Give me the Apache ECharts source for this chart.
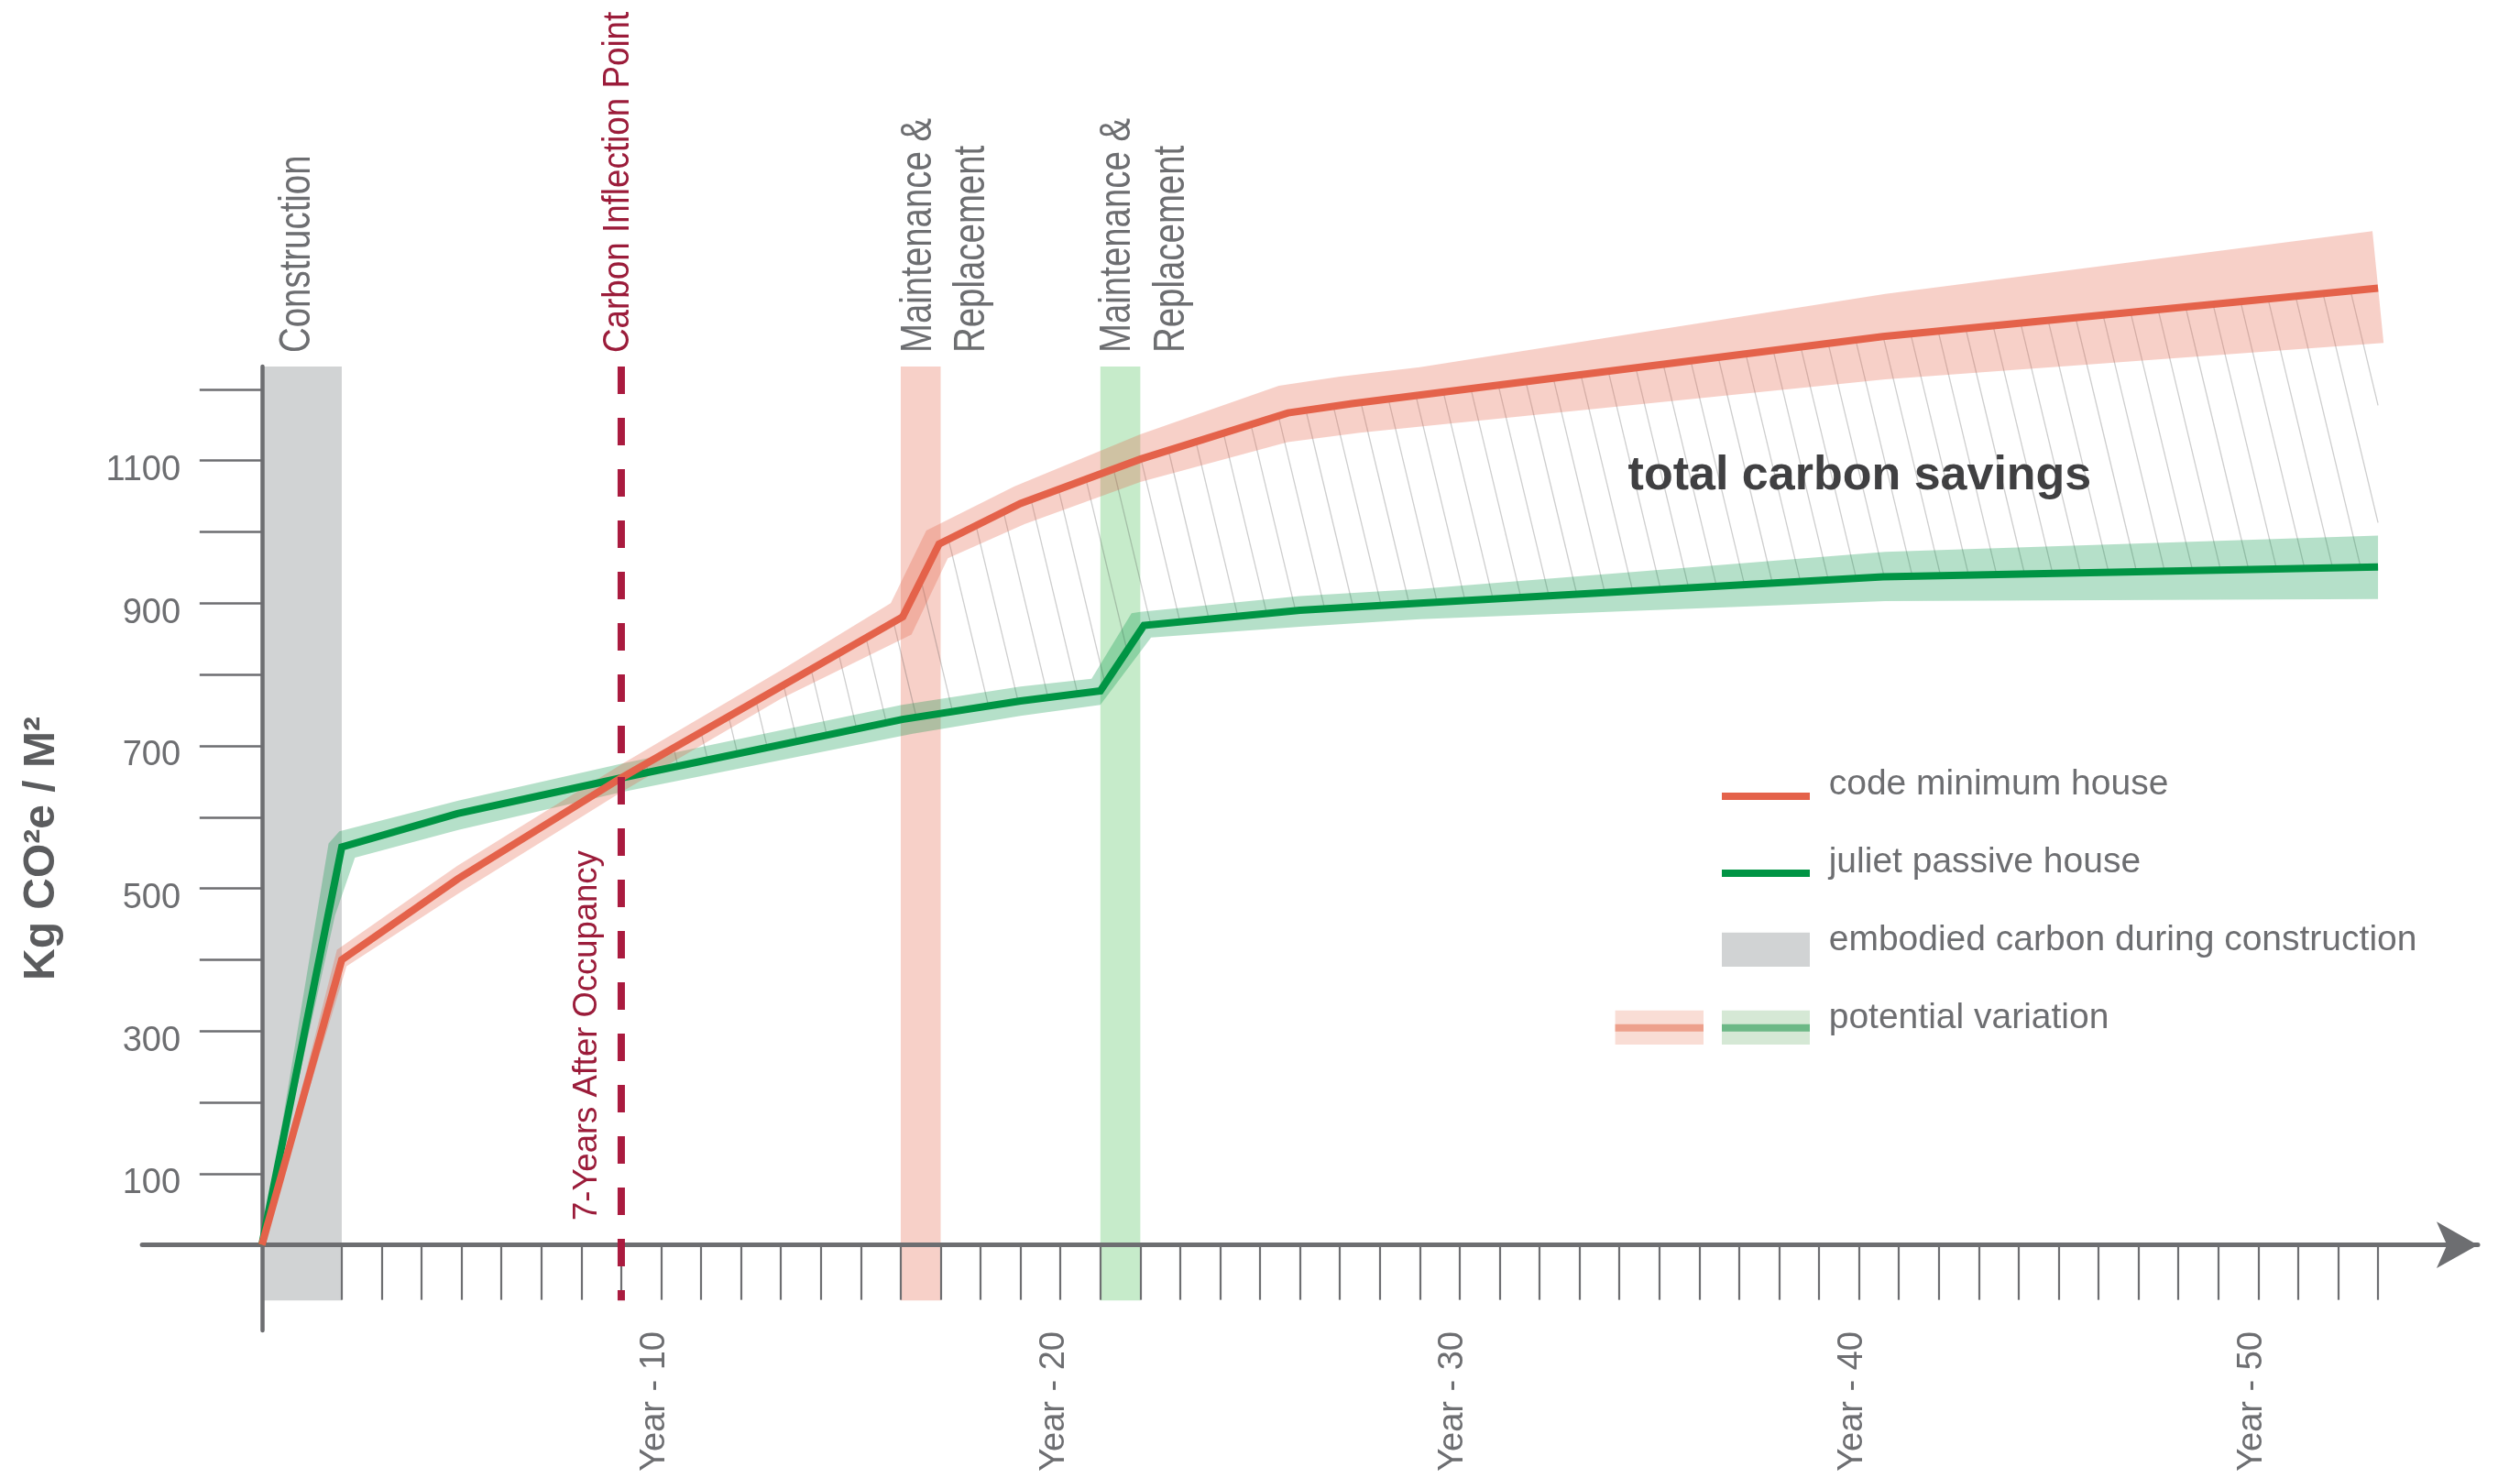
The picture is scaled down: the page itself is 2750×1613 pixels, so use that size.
<!DOCTYPE html>
<html>
<head>
<meta charset="utf-8">
<script src="https://cdn.jsdelivr.net/npm/echarts@6/dist/echarts.min.js"></script>
<style>
html,body{margin:0;padding:0;background:#ffffff;}
#chart{width:2750px;height:1613px;}
</style>
</head>
<body>
<div id="chart"></div>
<script>
// ---------------- data ----------------
const constructionYears = [0, 2];
const maintenanceYears = [[16, 17], [21, 22]];
const inflectionYear = 9;

// code minimum house: centre line and potential-variation envelope  [year, kg CO2e / m2]
const codeMinLine  = [[0,0],[2,400],[4.9,513],[9,655],[16.05,881],[16.96,983],[19,1040],[22,1102],[25.7,1167],[27.3,1180],[40.6,1274],[53,1342]];
const codeMinUpper = [[0,0],[1.88,414],[4.9,532],[9,674],[13,806],[15.75,900],[16.64,1002],[18.85,1064],[22,1137],[25.47,1205],[27,1218],[29,1231],[40.66,1334],[52.86,1422]];
const codeMinLower = [[0,0],[2.12,391],[4.9,492],[9,635],[13,766],[16.27,856],[17.18,963],[19.1,1011],[22,1070],[25.69,1126],[27.5,1139],[40.66,1214],[53.14,1265]];

// juliet passive house
const passiveLine  = [[0,0],[2,558],[4.9,605],[9,655],[16.04,737],[19,763],[21,777],[22.09,869],[26,890],[29,900],[40.6,937],[53,951]];
const passiveUpper = [[0,0],[1.67,563],[1.94,580],[4.92,623],[9,675],[16,757],[19,783],[20.78,794],[21.78,886],[22,888],[26,910],[29,920],[40.66,972],[53,995]];
const passiveLower = [[0,0],[1.83,462],[2.33,543],[4.92,582],[9,635],[16.3,717],[19,742],[21,757.6],[22.27,852],[26,867],[29,877.5],[40.66,903],[53,906]];

// ticks and labels
const xTickYears = [2,3,4,5,6,7,8,9,10,11,12,13,14,15,16,17,18,19,20,21,22,23,24,25,26,27,28,29,30,31,32,33,34,35,36,37,38,39,40,41,42,43,44,45,46,47,48,49,50,51,52,53];
const xLabelYears = [10,20,30,40,50];
const yTickValues = [100,200,300,400,500,600,700,800,900,1000,1100,1200];
const yLabelValues = [100,300,500,700,900,1100];

const seriesNames = ['code minimum house', 'juliet passive house'];
const legendLabels = ['code minimum house', 'juliet passive house', 'embodied carbon during construction', 'potential variation'];
const phaseLabels = ['Construction', 'Maintenance &', 'Replacement'];
const inflectionLabels = ['Carbon Inflection Point', '7-Years After Occupancy'];
const savingsLabel = 'total carbon savings';
const yAxisName = 'Kg CO²e / M²';

// ---------------- styles ----------------
const SANS = '"Liberation Sans", Arial, Helvetica, sans-serif';
const GREY_TEXT = '#6d6e71';
const AXIS_GREY = '#6d6e71';
const RED = '#e4624a';
const GREEN = '#009444';
const RED_BAND = 'rgba(228,98,74,0.30)';
const GREEN_BAND = 'rgba(0,148,68,0.29)';
const CRIMSON = '#aa1b3f';
const CRIMSON_TEXT = '#9b1c3a';
const BAND_TOP = 1232, BAND_BOTTOM = -78;   // vertical extent of the phase bands (value units)

function interpY(pts, x) {
  if (x <= pts[0][0]) return pts[0][1];
  for (let i = 0; i < pts.length - 1; i++) {
    const a = pts[i], b = pts[i + 1];
    if (x >= a[0] && x <= b[0]) {
      const d = b[0] - a[0];
      const t = d === 0 ? 0 : (x - a[0]) / d;
      return a[1] + t * (b[1] - a[1]);
    }
  }
  return pts[pts.length - 1][1];
}

const chart = echarts.init(document.getElementById('chart'), null, {renderer: 'canvas'});

const phaseSpans = [constructionYears].concat(maintenanceYears);
const phaseFills = ['#d1d3d4', 'rgba(228,98,74,0.30)', 'rgba(100,200,110,0.37)'];

const envelopes = [
  {upper: passiveUpper, lower: passiveLower, fill: GREEN_BAND},
  {upper: codeMinUpper, lower: codeMinLower, fill: RED_BAND}
];

// rotated (bottom-to-top) text; sx condenses the glyphs along the reading direction
function vText(text, x, y, size, color, sx, weight) {
  return {
    type: 'text', x: x, y: y, rotation: Math.PI / 2, scaleX: sx, scaleY: 1, silent: true,
    style: {
      text: text, fill: color, fontSize: size, fontFamily: SANS, fontWeight: weight || 'normal',
      align: 'left', verticalAlign: 'middle', textAlign: 'left', textVerticalAlign: 'middle'
    }
  };
}
function hText(text, x, y, size, color, weight) {
  return {
    type: 'text', x: x, y: y, silent: true,
    style: {
      text: text, fill: color, fontSize: size, fontFamily: SANS, fontWeight: weight || 'normal',
      align: 'left', verticalAlign: 'middle', textAlign: 'left', textVerticalAlign: 'middle'
    }
  };
}
function rect(x, y, w, h, fill) {
  return {type: 'rect', silent: true, shape: {x: x, y: y, width: w, height: h}, style: {fill: fill}};
}

const option = {
  animation: false,
  backgroundColor: '#ffffff',
  grid: {left: 155.1, right: 46, top: 400, bottom: 161, containLabel: false, outerBoundsMode: 'none'},
  xAxis: {
    type: 'value', min: -3, max: 55.5, z: 3,
    axisLine: {show: true, onZero: true, symbol: ['none', 'arrow'], symbolSize: [38, 45],
      lineStyle: {color: AXIS_GREY, width: 5}},
    axisTick: {show: true, customValues: xTickYears, length: 60, lineStyle: {color: AXIS_GREY, width: 2.2}},
    axisLabel: {show: true, customValues: xLabelYears, rotate: 90, margin: 1,
      formatter: function (v) { return 'Year - ' + v; },
      verticalAlign: 'bottom', lineHeight: 14,
      fontSize: 38, fontFamily: SANS, color: GREY_TEXT},
    splitLine: {show: false}
  },
  yAxis: {
    type: 'value', min: -120, max: 1232, z: 3,
    axisLine: {show: true, onZero: true, lineStyle: {color: AXIS_GREY, width: 4.5}},
    axisTick: {show: true, customValues: yTickValues, length: 68, lineStyle: {color: AXIS_GREY, width: 2.5}},
    axisLabel: {show: true, customValues: yLabelValues, margin: -42, fontSize: 38, fontFamily: SANS,
      color: GREY_TEXT, verticalAlign: 'top', lineHeight: 22,
      formatter: function (v) { return String(v); }},
    splitLine: {show: false},
    name: yAxisName, nameLocation: 'middle', nameGap: 85,
    nameTextStyle: {fontSize: 48, fontWeight: 'bold', fontFamily: SANS, color: '#5b5c5e'}
  },
  series: [
    { // construction + maintenance phases
      type: 'custom', name: 'phases', z: 1, silent: true, clip: false,
      encode: {x: [0, 1]},
      data: phaseSpans,
      renderItem: function (params, api) {
        const p0 = api.coord([api.value(0), BAND_TOP]);
        const p1 = api.coord([api.value(1), BAND_BOTTOM]);
        return {type: 'rect', shape: {x: p0[0], y: p0[1], width: p1[0] - p0[0], height: p1[1] - p0[1]},
          style: {fill: phaseFills[params.dataIndex]}};
      }
    },
    { // hatching: total carbon savings
      type: 'custom', name: 'savings', z: 4, silent: true, clip: false,
      data: [[inflectionYear]],
      renderItem: function (params, api) {
        const red = codeMinLine.map(function (p) { return api.coord(p); });
        const green = passiveLine.map(function (p) { return api.coord(p); });
        const xStart = api.coord([api.value(0), 0])[0];
        const xEnd = red[red.length - 1][0];
        const step = 30, slant = 0.24;
        const children = [];
        for (let x0 = xEnd - 30; x0 > xStart; x0 -= step) {
          const y0 = interpY(red, x0);
          if (y0 >= interpY(green, x0) - 2) continue;
          let x = x0, y = y0, t = 0;
          while (t < 2000) {
            const nx = x0 + slant * (t + 1), ny = y0 + t + 1;
            if (nx > xEnd || ny >= interpY(green, nx)) break;
            t++; x = nx; y = ny;
          }
          children.push({type: 'line', shape: {x1: x0, y1: y0, x2: x, y2: y},
            style: {stroke: 'rgba(60,60,60,0.26)', lineWidth: 1.3}});
        }
        return {type: 'group', children: children};
      }
    },
    { // potential variation envelopes
      type: 'custom', name: 'potential variation', z: 5, silent: true, clip: false,
      data: [[0], [1]],
      renderItem: function (params, api) {
        const env = envelopes[params.dataIndex];
        const pts = env.upper.map(function (p) { return api.coord(p); })
          .concat(env.lower.slice().reverse().map(function (p) { return api.coord(p); }));
        return {type: 'polygon', shape: {points: pts}, style: {fill: env.fill}};
      }
    },
    {
      type: 'line', name: seriesNames[1], data: passiveLine, z: 6, clip: false, silent: true,
      symbol: 'none', lineStyle: {color: GREEN, width: 8, join: 'miter'}, itemStyle: {color: GREEN}
    },
    {
      type: 'line', name: seriesNames[0], data: codeMinLine, z: 7, clip: false, silent: true,
      symbol: 'none', lineStyle: {color: RED, width: 8, join: 'miter'}, itemStyle: {color: RED}
    },
    { // carbon inflection point
      type: 'custom', name: 'inflection', z: 8, silent: true, clip: false,
      data: [[inflectionYear]],
      renderItem: function (params, api) {
        const a = api.coord([api.value(0), BAND_TOP]);
        const b = api.coord([api.value(0), BAND_BOTTOM]);
        return {type: 'line', shape: {x1: a[0], y1: a[1], x2: b[0], y2: b[1]},
          style: {stroke: CRIMSON, lineWidth: 8, lineDash: [30, 26], lineCap: 'butt'}};
      }
    }
  ],
  graphic: [
    // phase labels
    vText(phaseLabels[0], 324.5, 385, 48, GREY_TEXT, 0.8),
    vText(phaseLabels[1], 1002.5, 385, 48, GREY_TEXT, 0.8),
    vText(phaseLabels[2], 1061, 385, 48, GREY_TEXT, 0.8),
    vText(phaseLabels[1], 1220, 385, 48, GREY_TEXT, 0.8),
    vText(phaseLabels[2], 1279, 385, 48, GREY_TEXT, 0.8),
    // inflection labels
    vText(inflectionLabels[0], 675, 385, 40, CRIMSON_TEXT, 0.92),
    vText(inflectionLabels[1], 640.5, 1332, 37, CRIMSON_TEXT, 0.985),
    // savings
    hText(savingsLabel, 1776.6, 520, 52, '#404042', 'bold'),
    // legend
    rect(1879, 865, 96, 8, RED),
    hText(legendLabels[0], 1995.7, 856.5, 39, GREY_TEXT),
    rect(1879, 949, 96, 8, GREEN),
    hText(legendLabels[1], 1995.7, 941.5, 39, GREY_TEXT),
    rect(1879, 1017.7, 96, 37.3, '#d1d3d4'),
    hText(legendLabels[2], 1995.7, 1026.5, 39, GREY_TEXT),
    rect(1762.6, 1102.7, 96.4, 37.3, '#f9ddd5'),
    rect(1762.6, 1117.7, 96.4, 8, '#eda08c'),
    rect(1879, 1102.7, 96, 37.3, '#d5e8d5'),
    rect(1879, 1117.7, 96, 8, '#6cb886'),
    hText(legendLabels[3], 1995.7, 1111.5, 39, GREY_TEXT)
  ]
};

chart.setOption(option);
</script>
</body>
</html>
